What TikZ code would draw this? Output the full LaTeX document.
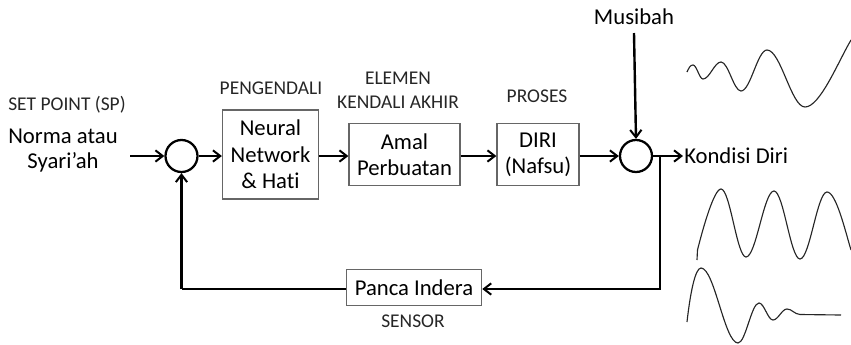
\documentclass[tikz,border=0pt]{standalone}
\usepackage{fontspec}
\setmainfont{Carlito}[Ligatures=NoCommon]
\usetikzlibrary{arrows.meta}

\begin{document}
\begin{tikzpicture}[x=0.75pt,y=-0.75pt,
  conn/.style={line width=1.8pt, -{Straight Barb[length=5.5pt,width=8.5pt,line width=1.5pt]}},
  line/.style={line width=1.8pt},
  sumpt/.style={circle, draw, line width=1.7pt, minimum size=24pt, inner sep=0pt},
  blockbox/.style={draw=black!60, line width=0.9pt, fill=white, align=center,
    inner sep=0pt, text=black, font=\fontsize{17}{19.8}\selectfont},
  caption/.style={align=center, text=black!85, font=\fontsize{14.6}{18}\selectfont},
  bigtext/.style={align=center, text=black, font=\fontsize{17}{18.8}\selectfont},
  wave/.style={line width=0.85pt, black!85}
]
\useasboundingbox (0,0) rectangle (851,344);

% summing points
\node[sumpt] (sp1) at (181.5,156) {};
\node[sumpt] (sp2) at (636,156) {};

% blocks of the loop
\node[blockbox, minimum width=72pt, minimum height=66.75pt] (ctrl) at (270.5,154.5)
  {Neural\\Network\\\& Hati};
\node[blockbox, minimum width=83.25pt, minimum height=46.5pt] (act) at (404.5,154.5)
  {Amal\\Perbuatan};
\node[blockbox, minimum width=61.5pt, minimum height=46.5pt] (proc) at (538,154.5)
  {DIRI\\(Nafsu)};
\node[blockbox, minimum width=101.5pt, minimum height=27pt] (sens) at (414,287.5)
  {Panca Indera};

% captions above / below the blocks
\node[caption] (lsp) at (67,105) {SET POINT (SP)};
\node[caption] (lctrl) at (271,88) {PENGENDALI};
\node[caption] (lact) at (398,90) {ELEMEN\\KENDALI AKHIR};
\node[caption] (lproc) at (537,96) {PROSES};
\node[caption] (lsens) at (413,321) {SENSOR};

% input, disturbance and output texts
\node[bigtext] (norma) at (63,150.5) {Norma atau\\Syari’ah};
\node[bigtext] (musibah) at (634,17) {Musibah};
\node[bigtext, anchor=west, inner sep=0pt] (kond) at (684,156) {Kondisi Diri};

\coordinate (in) at (130,156);
\coordinate (out) at (683,156);
\coordinate (br) at (660,156);
\coordinate (fbr) at (660,289);
\coordinate (fbl) at (181.5,289);
\coordinate (dist) at (634,33);

% forward path
\draw[conn] (in) -- (sp1.west);
\draw[conn] (sp1.east) -- (sp1.east -| ctrl.west);
\draw[conn] (ctrl.east |- sp1.east) -- (sp1.east -| act.west);
\draw[conn] (act.east |- sp1.east) -- (sp1.east -| proc.west);
\draw[conn] (proc.east |- sp2.west) -- (sp2.west);
\draw[conn] (dist) -- (sp2.north);
\draw[conn] (sp2.east) -- (out);

% feedback path
\draw[conn] (br) -- (fbr) -- (fbr -| sens.east);
\draw[line] (fbl -| sens.west) -- (fbl);
\draw[conn] (fbl) -- (sp1.south);

% response sketches
\draw[wave] (687,72) .. controls (689,68) and (690,65) .. (693,65)
  .. controls (696.6,65) and (699.4,79) .. (703,79)
  .. controls (709.5,79) and (714.5,62) .. (721,62)
  .. controls (728.3,62) and (733.7,91) .. (741,91)
  .. controls (750.5,91) and (757.5,50) .. (767,50)
  .. controls (780.8,50) and (791.2,107) .. (805,107)
  .. controls (820,107) and (838,62) .. (851,40);

\draw[wave] (697,260) -- (697.5,250)
  .. controls (703,228) and (714,189) .. (721,189)
  .. controls (730.1,189) and (736.9,257) .. (746,257)
  .. controls (756.2,257) and (763.8,191) .. (774,191)
  .. controls (783.5,191) and (790.5,259) .. (800,259)
  .. controls (809.8,259) and (817.2,192) .. (827,192)
  .. controls (836,192) and (845,230) .. (851,250);

\draw[wave] (687,322) .. controls (690,295) and (695,268) .. (701,268)
  .. controls (714.5,268) and (724.5,343) .. (738,343)
  .. controls (745.6,343) and (751.4,303) .. (759,303)
  .. controls (764.1,303) and (767.9,320) .. (773,320)
  .. controls (778.1,320) and (781.9,309) .. (787,309)
  .. controls (792,309) and (794,314) .. (800,314.5) -- (841,315);
\end{tikzpicture}
\end{document}
